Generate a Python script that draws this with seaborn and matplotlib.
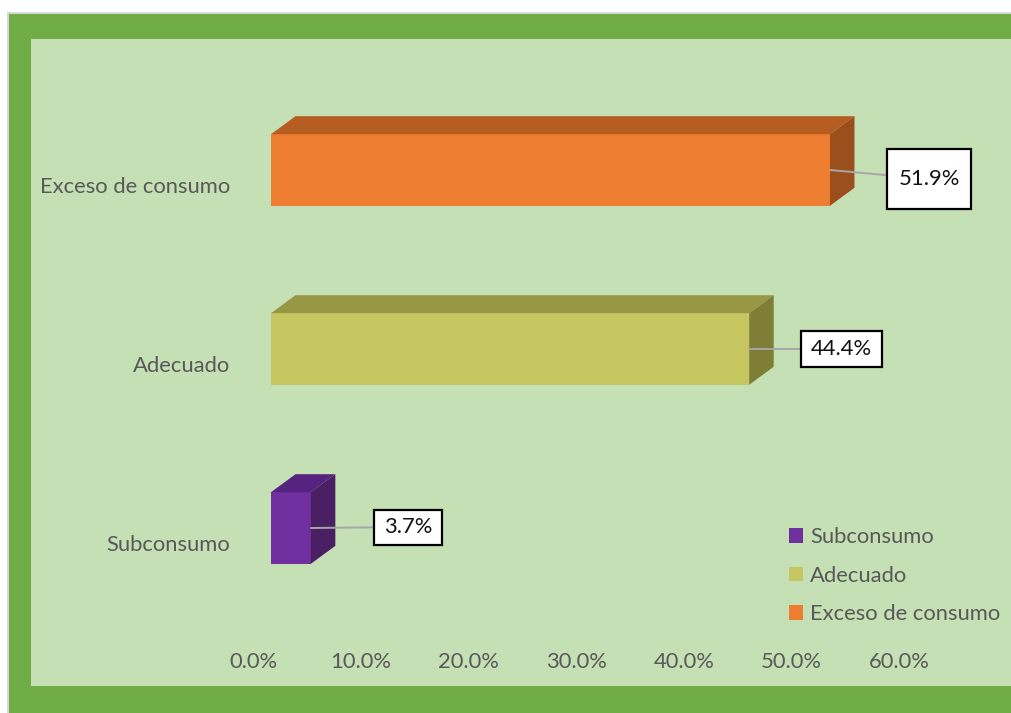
import matplotlib
matplotlib.use("Agg")
import matplotlib.pyplot as plt
import matplotlib.transforms as mtransforms
from matplotlib.patches import Rectangle, Polygon, Patch
from matplotlib.path import Path
import seaborn as sns
import pandas as pd

# ---- data ----
categories = ["Exceso de consumo", "Adecuado", "Subconsumo"]
shares = [51.9, 44.4, 3.7]
value_labels = ["51.9%", "44.4%", "3.7%"]
x_ticks = [0, 10, 20, 30, 40, 50, 60]
x_tick_labels = ["0.0%", "10.0%", "20.0%", "30.0%", "40.0%", "50.0%", "60.0%"]
legend_order = ["Subconsumo", "Adecuado", "Exceso de consumo"]

# ---- colours ----
front_col = {"Exceso de consumo": "#ED7D31", "Adecuado": "#C6C660", "Subconsumo": "#7030A0"}
top_col = {"Exceso de consumo": "#B65E22", "Adecuado": "#989743", "Subconsumo": "#552380"}
side_col = {"Exceso de consumo": "#9B4F1C", "Adecuado": "#7F7E36", "Subconsumo": "#481F62"}
GREEN = "#70AD47"
PANEL = "#C5E0B4"
TEXT = "#595959"
FS = 15.8

# label placement (box centre relative to bar end, px, y downwards) and box padding (px)
label_offsets = [(99, 9), (92, 0), (97, -1)]
label_pads = [(11.5, 20.0), (10.0, 8.0), (10.0, 7.5)]

W, H, DPI = 1012, 713, 100
sns.set_theme(style="white")
plt.rcParams["font.family"] = ["Lato", "DejaVu Sans"]

fig = plt.figure(figsize=(W / DPI, H / DPI), dpi=DPI)
fig.patch.set_facecolor("white")


def px_rect(x0, y0, x1, y1, **kw):
    fig.add_artist(Rectangle((x0 / W, 1 - y1 / H), (x1 - x0) / W, (y1 - y0) / H,
                             transform=fig.transFigure, zorder=-10, clip_on=False, **kw))


# outer frame, green band and light panel
px_rect(8, 13, W + 20, H + 20, facecolor="none", edgecolor="#D0D0D0", linewidth=1.2)
px_rect(9, 14, W + 20, H + 20, facecolor=GREEN, edgecolor="none")
px_rect(31, 39, W + 20, 686, facecolor=PANEL, edgecolor="none")

# plot axes: 0 % at x=271 px, 10.77 px per percent
ax_left, ax_right = 271, 271 + 60 * 10.77
ax_top, ax_bottom = 80.5, 617.5
ax = fig.add_axes([ax_left / W, 1 - ax_bottom / H, (ax_right - ax_left) / W, (ax_bottom - ax_top) / H])
ax.set_facecolor("none")

df = pd.DataFrame({"category": categories, "share": shares})
sns.barplot(data=df, x="share", y="category", hue="category", order=categories,
            hue_order=categories, palette=front_col, width=0.4, saturation=1,
            legend=False, linewidth=0, ax=ax)
ax.set_xlim(0, 60)
ax.set_ylim(2.5, -0.5)
for s in ax.spines.values():
    s.set_visible(False)
ax.set_xlabel("")
ax.set_ylabel("")

# 3-D depth for every bar
px_per_x = (ax_right - ax_left) / 60
px_per_y = (ax_bottom - ax_top) / 3
DX = 24.5 / px_per_x
DY = 18.0 / px_per_y
for p in list(ax.patches):
    x0 = p.get_x()
    x1 = x0 + p.get_width()
    yt = p.get_y()
    yb = yt + p.get_height()
    cat = categories[int(round((yt + yb) / 2))]
    ax.add_patch(Polygon([(x0, yt), (x1, yt), (x1 + DX, yt - DY), (x0 + DX, yt - DY)],
                         closed=True, facecolor=top_col[cat], edgecolor="none", clip_on=False))
    ax.add_patch(Polygon([(x1, yt), (x1 + DX, yt - DY), (x1 + DX, yb - DY), (x1, yb)],
                         closed=True, facecolor=side_col[cat], edgecolor="none", clip_on=False))


def box_style(padx, pady):
    def style(x0, y0, width, height, mutation_size):
        a, b = x0 - padx, y0 - pady
        c, d = x0 + width + padx, y0 + height + pady
        return Path([(a, b), (c, b), (c, d), (a, d), (a, b)],
                    [Path.MOVETO, Path.LINETO, Path.LINETO, Path.LINETO, Path.CLOSEPOLY])
    return style


# value labels with leader lines
for i, (cat, val, lab) in enumerate(zip(categories, shares, value_labels)):
    ox, oy = label_offsets[i]
    px, py = label_pads[i]
    ax.annotate(lab, xy=(val, i), xytext=(ox * 0.72, -oy * 0.72), textcoords="offset points",
                ha="center", va="center", fontsize=FS, color="#111111",
                bbox=dict(boxstyle=box_style(px, py), facecolor="white", edgecolor="black", linewidth=1.6),
                arrowprops=dict(arrowstyle="-", color="#A6A6A6", linewidth=1.4, shrinkA=0, shrinkB=0),
                annotation_clip=False, zorder=5)

# ticks
ax.set_xticks(x_ticks, x_tick_labels)
ax.tick_params(axis="x", length=0, pad=25, labelsize=FS, labelcolor=TEXT)
ax.tick_params(axis="y", length=0, pad=29.5, labelsize=FS, labelcolor=TEXT)
xoff = mtransforms.ScaledTranslation(-18 / DPI, 0, fig.dpi_scale_trans)
for lab in ax.get_xticklabels():
    lab.set_transform(lab.get_transform() + xoff)
yoff = mtransforms.ScaledTranslation(0, -15 / DPI, fig.dpi_scale_trans)
for lab in ax.get_yticklabels():
    lab.set_transform(lab.get_transform() + yoff)

# legend
handles = [Patch(facecolor=front_col[c], edgecolor="none") for c in legend_order]
fig.legend(handles, legend_order, loc="upper left", bbox_to_anchor=(789 / W, 1 - 527 / H),
           frameon=False, fontsize=FS, labelcolor=TEXT, handlelength=0.65, handleheight=0.65,
           handletextpad=0.3, labelspacing=0.85, borderpad=0, borderaxespad=0)

fig.savefig("out.png", dpi=DPI, facecolor=fig.get_facecolor())
